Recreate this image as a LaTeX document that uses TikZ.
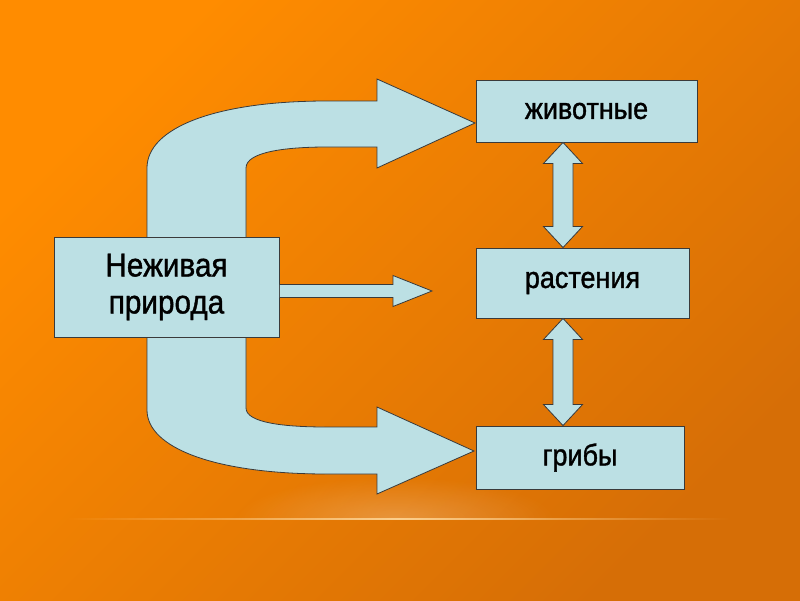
\documentclass[tikz,border=0pt]{standalone}
\usepackage{fontspec}
\setmainfont[FakeStretch=0.9, FakeBold=1.2]{Liberation Sans}
\usetikzlibrary{calc, fadings}
\definecolor{fonOrange}{RGB}{255, 140, 0}
\definecolor{fonMid}{RGB}{243, 132, 2}
\definecolor{fonDark}{RGB}{214, 110, 6}
\definecolor{blokFill}{RGB}{188, 224, 228}
\definecolor{blokEdge}{RGB}{58, 58, 58}
\definecolor{glowLine}{RGB}{255, 214, 150}
\tikzfading[name=glowfade, inner color=transparent!0, outer color=transparent!100]
\tikzfading[name=fadeL, left color=transparent!100, right color=transparent!0]
\tikzfading[name=fadeR, left color=transparent!0, right color=transparent!100]

\begin{document}
\begin{tikzpicture}[
    x=1pt, y=-1pt,
    blok/.style={
        draw=blokEdge, line width=0.9pt, fill=blokFill,
        align=center, inner sep=0pt
    },
    bigtxt/.style={font=\fontsize{33}{37}\selectfont},
    smalltxt/.style={font=\fontsize{30}{36}\selectfont},
    strelka/.style={draw=blokEdge, line width=0.8pt, fill=blokFill, line join=miter},
    twoway/.style={strelka, to path={
        let \p1=(\tikztostart), \p2=(\tikztotarget) in
        (\x1,\y1) -- (\x1+19.5,\y1-21) -- (\x1+10,\y1-21) -- (\x1+10,\y2+21)
        -- (\x1+19.5,\y2+21) -- (\x2,\y2) -- (\x1-19.5,\y2+21) -- (\x1-10,\y2+21)
        -- (\x1-10,\y1-21) -- (\x1-19.5,\y1-21) -- cycle}},
    oneway/.style={strelka, to path={
        let \p1=(\tikztostart), \p2=(\tikztotarget) in
        (\x1+0.5,\y1+6.5) -- (\x2-39,\y1+6.5) -- (\x2-39,\y1+15.5) -- (\x2,\y2)
        -- (\x2-39,\y1-15.5) -- (\x2-39,\y1-6.5) -- (\x1+0.5,\y1-6.5)}}
]
\useasboundingbox (0,0) rectangle (800,600);
\shade[top color=fonOrange, middle color=fonMid, bottom color=fonDark, shading angle=45]
    (0,0) rectangle (800,600);

\begin{scope}
    \clip (0,0) rectangle (800,519);
    \fill[white, opacity=0.22, path fading=glowfade] (395,519) ellipse [x radius=160, y radius=42];
\end{scope}
\fill[glowLine, opacity=0.9, path fading=fadeL] (66,517.8) rectangle (398,520.2);
\fill[glowLine, opacity=0.9, path fading=fadeR] (398,517.8) rectangle (730,520.2);

\draw[strelka] (377,101) -- (377,79) -- (475,123) -- (377,168) -- (377,147) -- (327,147)
    .. controls (285,147) and (246,152) .. (246,168) -- (246,408)
    .. controls (246,423) and (285,427) .. (327,427) -- (377,427) -- (377,407)
    -- (474,451) -- (377,494) -- (377,474) -- (327,474)
    .. controls (215,474) and (147,448) .. (147,410) -- (147,168)
    .. controls (147,128) and (215,101) .. (327,101) -- cycle;

\node[blok, bigtxt, minimum width=225, minimum height=100] (nezh) at (166.5,287)
    {Неживая\\природа};
\node[blok, smalltxt, minimum width=221, minimum height=62] (zhiv) at (586.5,111) {животные};
\node[blok, smalltxt, minimum width=213, minimum height=70] (rast) at (582.5,283) {растения};
\node[blok, smalltxt, minimum width=208, minimum height=63] (grib) at (580,457.5) {грибы};

\coordinate (osX) at (563,0);
\coordinate (srTip) at (432,291);

\draw[twoway] (zhiv.south -| osX) to (rast.north -| osX);
\draw[twoway] (rast.south -| osX) to (grib.north -| osX);
\draw[oneway] (nezh.east |- srTip) to (srTip);

\end{tikzpicture}
\end{document}
